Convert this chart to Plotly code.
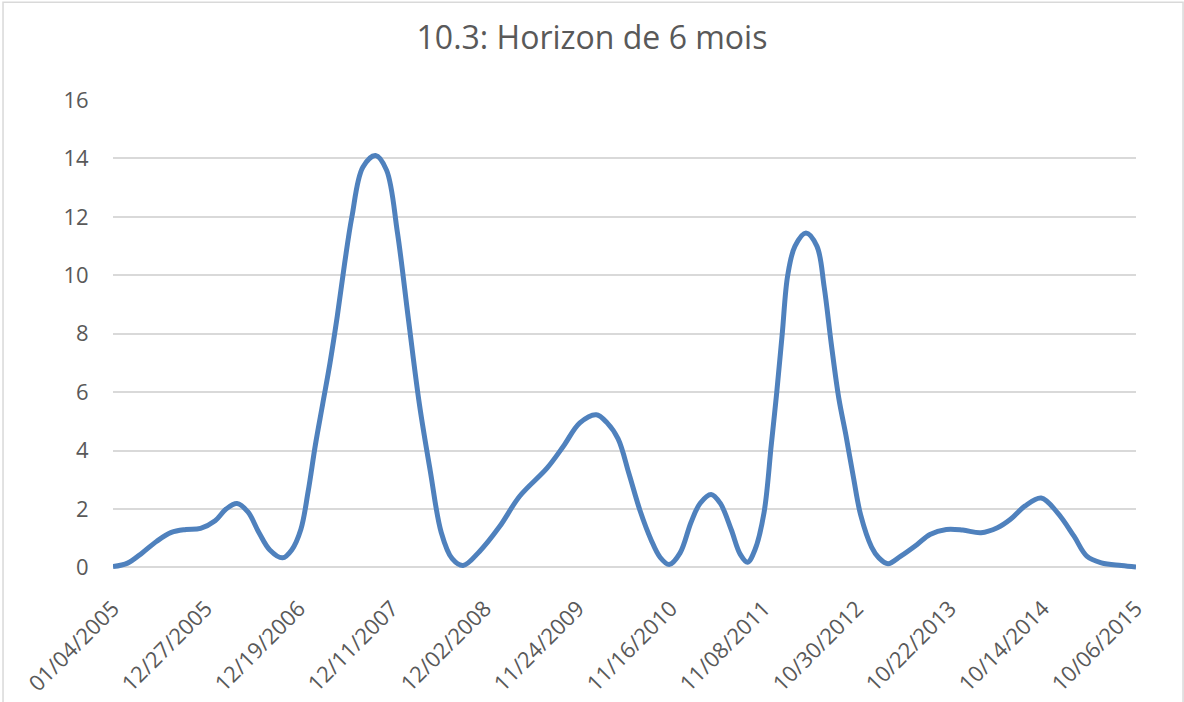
import plotly.graph_objects as go

# ---- data ----
dates = [
    "2005-01-04", "2005-03-01", "2005-04-26", "2005-06-21", "2005-08-16", "2005-10-11",
    "2005-12-06", "2006-01-31", "2006-03-14", "2006-04-25", "2006-06-06", "2006-07-18",
    "2006-08-29", "2006-10-17", "2006-11-21", "2006-12-26", "2007-01-23", "2007-02-20",
    "2007-03-20", "2007-04-17", "2007-05-15", "2007-06-12", "2007-07-10", "2007-08-21",
    "2007-10-09", "2007-11-20", "2008-01-01", "2008-02-12", "2008-03-25", "2008-05-06",
    "2008-06-17", "2008-07-29", "2008-09-09", "2008-11-11", "2009-01-27", "2009-04-14",
    "2009-07-28", "2009-09-29", "2009-12-01", "2010-02-02", "2010-03-16", "2010-04-27",
    "2010-06-08", "2010-07-20", "2010-08-31", "2010-10-05", "2010-11-09", "2010-12-21",
    "2011-02-01", "2011-03-08", "2011-04-19", "2011-05-24", "2011-07-05", "2011-08-09",
    "2011-09-06", "2011-10-04", "2011-11-08", "2011-12-06", "2011-12-27", "2012-01-17",
    "2012-02-07", "2012-03-06", "2012-04-17", "2012-05-29", "2012-06-26", "2012-07-24",
    "2012-08-21", "2012-09-18", "2012-10-16", "2012-11-13", "2012-12-25", "2013-01-22",
    "2013-02-26", "2013-04-16", "2013-06-18", "2013-08-06", "2013-10-08", "2013-12-10",
    "2014-02-18", "2014-04-22", "2014-06-10", "2014-08-05", "2014-10-07", "2014-12-09",
    "2015-02-10", "2015-03-31", "2015-05-26", "2015-08-11", "2015-10-06",
]
values = [
    0.03, 0.15, 0.50, 0.90, 1.20, 1.30,
    1.34, 1.60, 2.00, 2.19, 1.90, 1.20,
    0.60, 0.33, 0.60, 1.30, 2.60, 4.20,
    5.60, 7.00, 8.60, 10.40, 12.00, 13.70,
    14.10, 13.60, 11.45, 8.50, 5.60, 3.30,
    1.20, 0.30, 0.07, 0.55, 1.40, 2.44,
    3.40, 4.15, 4.95, 5.23, 4.95, 4.40,
    3.20, 1.95, 0.96, 0.35, 0.10, 0.50,
    1.55, 2.20, 2.50, 2.20, 1.30, 0.45,
    0.18, 0.60, 1.87, 4.20, 6.00, 8.00,
    10.00, 11.00, 11.45, 11.00, 9.60, 7.60,
    5.80, 4.50, 3.10, 1.80, 0.70, 0.33,
    0.13, 0.39, 0.79, 1.13, 1.30, 1.28,
    1.19, 1.36, 1.64, 2.10, 2.38, 1.87,
    1.07, 0.39, 0.16, 0.07, 0.02,
]
tick_dates = [
    "2005-01-04", "2005-12-27", "2006-12-19", "2007-12-11", "2008-12-02", "2009-11-24",
    "2010-11-16", "2011-11-08", "2012-10-30", "2013-10-22", "2014-10-14", "2015-10-06",
]
tick_labels = [
    "01/04/2005", "12/27/2005", "12/19/2006", "12/11/2007", "12/02/2008", "11/24/2009",
    "11/16/2010", "11/08/2011", "10/30/2012", "10/22/2013", "10/14/2014", "10/06/2015",
]
y_ticks = [0, 2, 4, 6, 8, 10, 12, 14, 16]
title_text = "10.3: Horizon de 6 mois"

# ---- styling ----
FONT = "Open Sans"
TEXT_COLOR = "#595959"
GRID_COLOR = "#d9d9d9"
LINE_COLOR = "#4f81bd"

fig = go.Figure()
fig.add_trace(go.Scatter(
    x=dates, y=values, mode="lines",
    line=dict(color=LINE_COLOR, width=5, shape="spline", smoothing=1.0),
    showlegend=False, hoverinfo="x+y",
))

fig.update_layout(
    width=1184, height=702,
    paper_bgcolor="white", plot_bgcolor="white",
    margin=dict(l=113, r=48, t=100, b=130.5, pad=0, autoexpand=False),
    title=dict(text=title_text, x=0.5, xref="container", xanchor="center",
               y=1 - 38 / 702, yref="container", yanchor="middle",
               font=dict(family=FONT, size=32, color=TEXT_COLOR)),
    font=dict(family=FONT, color=TEXT_COLOR),
    shapes=[dict(type="rect", xref="paper", yref="paper",
                 x0=-0.1075, x1=1.046, y0=-0.315, y1=1.2078,
                 line=dict(color=GRID_COLOR, width=1.5), fillcolor="rgba(0,0,0,0)",
                 layer="below")],
)

fig.update_xaxes(
    type="date", range=[dates[0], dates[-1]], automargin=False,
    tickmode="array", tickvals=tick_dates, ticktext=tick_labels,
    tickangle=-45, tickfont=dict(family=FONT, size=22, color=TEXT_COLOR),
    ticks="outside", ticklen=15, tickcolor="rgba(0,0,0,0)",
    showgrid=False, showline=False, zeroline=False,
)
fig.update_yaxes(
    range=[-0.12, 16], automargin=False, tickmode="array", tickvals=y_ticks,
    tickfont=dict(family=FONT, size=22, color=TEXT_COLOR),
    ticks="outside", ticklen=19, tickcolor="rgba(0,0,0,0)",
    showgrid=True, gridcolor=GRID_COLOR, gridwidth=2,
    zeroline=True, zerolinecolor=GRID_COLOR, zerolinewidth=2,
    showline=False,
)

fig.write_html("out.html", config={"displayModeBar": False},
               post_script="document.body.style.margin='0px';")
